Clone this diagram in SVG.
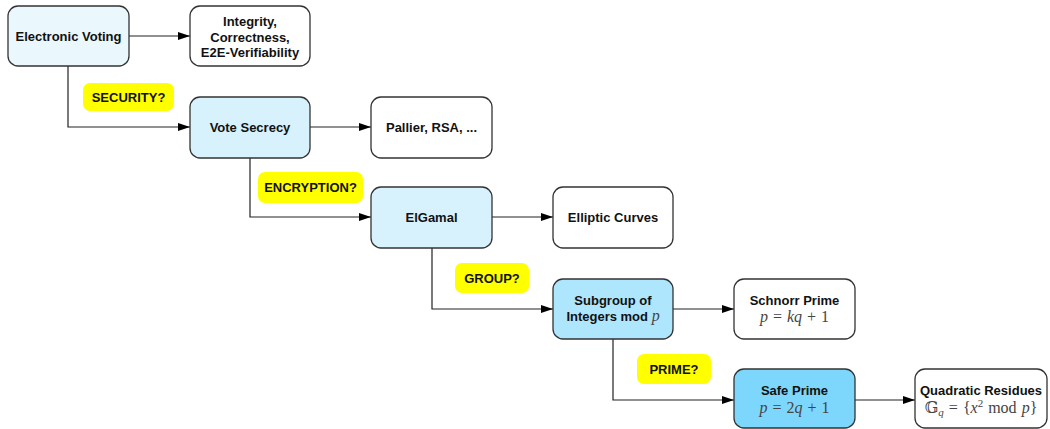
<svg xmlns="http://www.w3.org/2000/svg" width="1050" height="429" viewBox="0 0 1050 429">
<defs>
<marker id="ah" viewBox="0 0 12 10" refX="12" refY="5" markerWidth="12" markerHeight="10" markerUnits="userSpaceOnUse" orient="auto">
<path d="M0,1 L12,5 L0,9 Z" fill="#000"/>
</marker>
<style>
.box{stroke:#333;stroke-width:1.3}
.t{font-family:"Liberation Sans",Arial,sans-serif;font-weight:bold;font-size:13px;fill:#111;text-anchor:middle}
.m{font-family:"Liberation Serif","DejaVu Serif",serif;font-size:16px;fill:#444;text-anchor:middle;word-spacing:1px}
.mi{font-family:"Liberation Serif","DejaVu Serif",serif;font-size:16px;font-weight:normal;font-style:italic;fill:#444}
.lab{fill:#ffff00}
.c{fill:none;stroke:#222;stroke-width:1.2;marker-end:url(#ah)}
</style>
</defs>
<rect width="1050" height="429" fill="#fff"/>
<g id="connectors">
<path class="c" d="M129,36 H190"/>
<path class="c" d="M68,66 V127 H190"/>
<path class="c" d="M310,127 H371"/>
<path class="c" d="M250,158 V217 H371"/>
<path class="c" d="M492,217 H553"/>
<path class="c" d="M432,248 V309 H553"/>
<path class="c" d="M673,309 H734"/>
<path class="c" d="M613,339 V400 H734"/>
<path class="c" d="M855,400 H915"/>
</g>
<g id="n-ev"><rect class="box" x="8" y="6" width="121" height="60" rx="10" fill="#eaf8fe"/><text class="t" x="68.5" y="41">Electronic Voting</text></g>
<g id="n-int"><rect class="box" x="190" y="6" width="120" height="60" rx="10" fill="#fff"/><text class="t" x="250" y="26">Integrity,</text><text class="t" x="250" y="41.5">Correctness,</text><text class="t" x="250" y="57">E2E-Verifiability</text></g>
<g id="l-sec"><rect class="lab" x="83" y="83" width="91" height="28" rx="7"/><text class="t" x="128.5" y="102">SECURITY?</text></g>
<g id="n-vs"><rect class="box" x="190" y="97" width="120" height="61" rx="10" fill="#d8f2fd"/><text class="t" x="250" y="132">Vote Secrecy</text></g>
<g id="n-pal"><rect class="box" x="371" y="97" width="121" height="61" rx="10" fill="#fff"/><text class="t" x="431.5" y="132">Pallier, RSA, ...</text></g>
<g id="l-enc"><rect class="lab" x="258" y="172" width="105" height="31" rx="7"/><text class="t" x="310.5" y="192">ENCRYPTION?</text></g>
<g id="n-elg"><rect class="box" x="371" y="187" width="121" height="61" rx="10" fill="#d8f2fd"/><text class="t" x="431.5" y="222">ElGamal</text></g>
<g id="n-ell"><rect class="box" x="553" y="187" width="120" height="61" rx="10" fill="#fff"/><text class="t" x="613" y="222">Elliptic Curves</text></g>
<g id="l-grp"><rect class="lab" x="455" y="263" width="74" height="30" rx="7"/><text class="t" x="492" y="283">GROUP?</text></g>
<g id="n-sub"><rect class="box" x="553" y="279" width="120" height="60" rx="10" fill="#aee6fd"/><text class="t" x="613" y="305">Subgroup of</text><text class="t" x="613" y="321">Integers mod <tspan class="mi">p</tspan></text></g>
<g id="n-sch"><rect class="box" x="734" y="279" width="121" height="60" rx="10" fill="#fff"/><text class="t" x="794.5" y="305">Schnorr Prime</text><text class="m" x="794.5" y="322"><tspan font-style="italic">p</tspan> = <tspan font-style="italic">kq</tspan> + 1</text></g>
<g id="l-pri"><rect class="lab" x="637" y="354" width="74" height="30" rx="7"/><text class="t" x="674" y="374">PRIME?</text></g>
<g id="n-safe"><rect class="box" x="734" y="369" width="121" height="59" rx="10" fill="#7dd6fb"/><text class="t" x="794.5" y="395">Safe Prime</text><text class="m" x="794.5" y="413"><tspan font-style="italic">p</tspan> = 2<tspan font-style="italic">q</tspan> + 1</text></g>
<g id="n-qr"><rect class="box" x="915" y="369" width="132" height="59" rx="10" fill="#fff"/><text class="t" x="981" y="395">Quadratic Residues</text><text class="m" x="981" y="413">𝔾<tspan font-style="italic" font-size="11" dy="3">q</tspan><tspan dy="-3"> = {</tspan><tspan font-style="italic">x</tspan><tspan font-size="11" dy="-6">2</tspan><tspan dy="6"> mod </tspan><tspan font-style="italic">p</tspan>}</text></g>
</svg>
